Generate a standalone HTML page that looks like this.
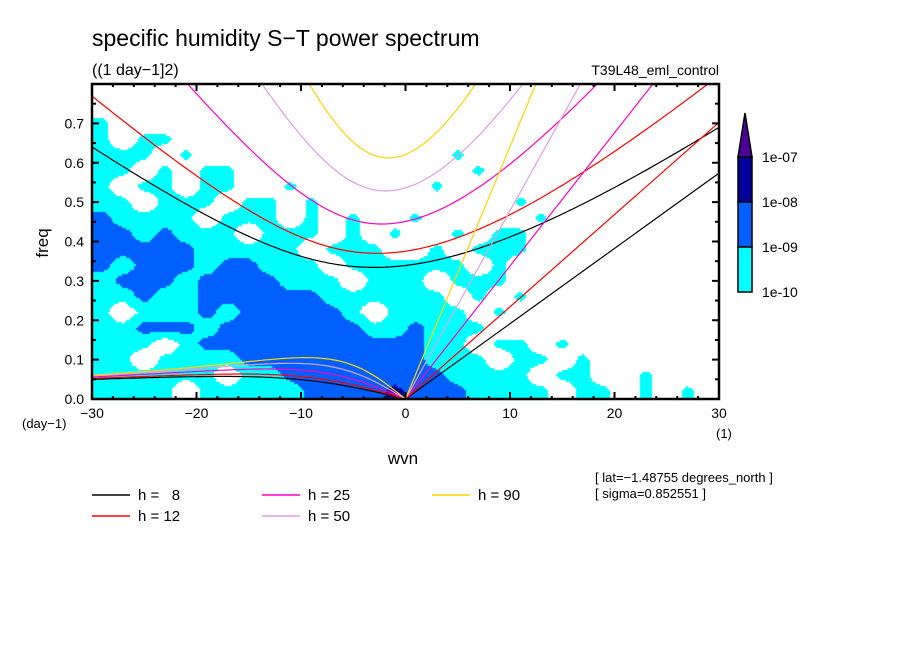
<!DOCTYPE html>
<html><head><meta charset="utf-8">
<style>
body{margin:0;background:#fff;}
#wrap{position:relative;width:904px;height:654px;overflow:hidden;font-family:"Liberation Sans",sans-serif;}
canvas,svg{position:absolute;left:0;top:0;}
</style></head>
<body>
<div id="wrap">
<canvas id="heat" width="904" height="654"></canvas>
<svg id="svg" width="904" height="654"></svg>
</div>
<script>
// grid levels: 0 white, 1 = 1e-10..1e-9, 2 = 1e-9..1e-8, 3 = 1e-8..1e-7
// rows bottom (freq 0-0.04) to top (0.76-0.8); columns wvn -30..30 step 2
const freqRows = [0.02,0.06,0.10,0.14,0.18,0.22,0.26,0.30,0.34,0.38,0.42,0.46,0.50,0.54,0.58,0.62,0.66,0.70,0.74,0.78];
const wvnCols = [-29,-27,-25,-23,-21,-19,-17,-15,-13,-11,-9,-7,-5,-3,-1,1,3,5,7,9,11,13,15,17,19,21,23,25,27,29];
const levelRows = [
 "111101111122223"+"222111101101010",
 "111111011222222"+"221111011001000",
 "110111122222222"+"211101101000000",
 "111012222222222"+"211011010000000",
 "112221222222211"+"211100000000000",
 "101112122222101"+"111010000000000",
 "112112222221111"+"110101000000000",
 "122212222111011"+"101110000000000",
 "212221221110111"+"111010000000000",
 "222221111101110"+"010111000000000",
 "221211101110101"+"001011000000000",
 "211110111010100"+"100000100000000",
 "110111011010000"+"000001000000000",
 "101101100100000"+"010000000000000",
 "110101100000000"+"000100000000000",
 "111010000000000"+"001000000000000",
 "101100000000000"+"000000000000000",
 "100000000000000"+"000000000000000",
 "000000000000000"+"000000000000000",
 "000000000000000"+"000000000000000"
];
const depths = [8,12,25,50,90];
const depthColors = ["#000000","#ff0000","#ff00c0","#dda0dd","#ffd400"];
const yTicks = [0,0.1,0.2,0.3,0.4,0.5,0.6,0.7];
const xTicks = [-30,-20,-10,0,10,20,30];
const cbLabels = ["1e-07","1e-08","1e-09","1e-10"];

const X0=92,X1=719,Y0=399,Y1=84;
const xs=w=>X0+(w+30)/60*(X1-X0);
const ys=f=>Y0-f/0.8*(Y0-Y1);
const levelColors=["#ffffff","#00ffff","#0060ff","#00009c"];

// heatmap
const ctx=document.getElementById('heat').getContext('2d');
function lev(r,c){r=Math.max(0,Math.min(freqRows.length-1,r));c=Math.max(0,Math.min(wvnCols.length-1,c));return +levelRows[r][c];}
const step=2;
const dw=wvnCols[1]-wvnCols[0], df=freqRows[1]-freqRows[0];
for(let px=X0;px<X1;px+=step){
 for(let py=Y1;py<Y0;py+=step){
  const w=(px+step/2-X0)/(X1-X0)*60-30, f=(Y0-(py+step/2))/(Y0-Y1)*0.8;
  const cf=(w-wvnCols[0])/dw, rf=(f-freqRows[0])/df;
  const c0=Math.floor(cf),r0=Math.floor(rf),tc=cf-c0,tr=rf-r0;
  const v=(lev(r0,c0)*(1-tc)+lev(r0,c0+1)*tc)*(1-tr)+(lev(r0+1,c0)*(1-tc)+lev(r0+1,c0+1)*tc)*tr;
  const n=v<0.7?0:v<1.6?1:v<2.6?2:3;
  if(n>0){ctx.fillStyle=levelColors[n];ctx.fillRect(px,py,step,step);}
 }
}

const svg=document.getElementById('svg');const NS="http://www.w3.org/2000/svg";
function el(tag,attrs,parent){const e=document.createElementNS(NS,tag);for(const k in attrs)e.setAttribute(k,attrs[k]);(parent||svg).appendChild(e);return e;}
function txt(x,y,s,size,anchor,name){const t=el('text',{x:x,y:y,'font-size':size,'text-anchor':anchor||'start',fill:'#000','font-family':'Liberation Sans, sans-serif'});t.textContent=s;


return t;}

// dispersion curves
const a=6.371e6,g=9.81,beta=2*7.292e-5/a,toCpd=86400/(2*Math.PI);
function roots(kw,h){const c=Math.sqrt(g*h),k=kw/a,A=k*k*c*c+3*beta*c,B=beta*k*c*c;
 const m=2*Math.sqrt(A/3),arg=Math.max(-1,Math.min(1,3*B/(2*A)*Math.sqrt(3/A)));const th=Math.acos(arg)/3;
 const r=[0,1,2].map(j=>m*Math.cos(th-2*Math.PI*j/3)).sort((p,q)=>p-q);return r.map(v=>v*toCpd);}
const cp=el('clipPath',{id:'cp'});el('rect',{x:X0,y:Y1,width:X1-X0,height:Y0-Y1},cp);
const gc=el('g',{'clip-path':'url(#cp)'});


depths.forEach((h,i)=>{
 let ig="",ro="";
 for(let w=-30;w<=30.001;w+=0.25){const r=roots(w,h);ig+=(ig?"L":"M")+xs(w).toFixed(1)+","+ys(r[2]).toFixed(1);
  if(w<=0){ro+=(ro?"L":"M")+xs(w).toFixed(1)+","+ys(w<0?r[1]:0).toFixed(1);}}
 const c=Math.sqrt(g*h);const fk=30/a*c*toCpd;
 const p1=el('path',{d:ig,fill:'none',stroke:depthColors[i],'stroke-width':1.2},gc);
 
 
 const p2=el('path',{d:ro,fill:'none',stroke:depthColors[i],'stroke-width':1.2},gc);
 
 
 const p3=el('line',{x1:xs(0),y1:ys(0),x2:xs(30),y2:ys(fk),stroke:depthColors[i],'stroke-width':1.2},gc);
 
 
});

// frame
const fr=el('rect',{x:X0,y:Y1,width:X1-X0,height:Y0-Y1,fill:'none',stroke:'#000','stroke-width':2.5});


// ticks
for(let f=0;f<=0.8001;f+=0.05){const maj=Math.abs(f*10-Math.round(f*10))<1e-6;const L=maj?7:4;
 el('line',{x1:X0,y1:ys(f),x2:X0+L,y2:ys(f),stroke:'#000','stroke-width':2});el('line',{x1:X1,y1:ys(f),x2:X1-L,y2:ys(f),stroke:'#000','stroke-width':2});}
for(let w=-30;w<=30;w+=2){const maj=w%10===0;const L=maj?7:3;
 el('line',{x1:xs(w),y1:Y0,x2:xs(w),y2:Y0-L,stroke:'#000','stroke-width':2});el('line',{x1:xs(w),y1:Y1,x2:xs(w),y2:Y1+L,stroke:'#000','stroke-width':2});}
yTicks.forEach(v=>txt(84,ys(v)+5,v.toFixed(1),14,'end','y-tick-label'));
xTicks.forEach(v=>txt(xs(v),418,(v<0?'\u2212':'')+Math.abs(v),14,'middle','x-tick-label'));
txt(22,428,'(day\u22121)',13,'start','y-unit-label');
txt(716,438,'(1)',13,'start','x-unit-label');
const fq=txt(0,0,'freq',17,'middle','y-axis-title');fq.setAttribute('transform','translate(48,243) rotate(-90)');
txt(403,464,'wvn',17,'middle','x-axis-title');
txt(92,46,'specific humidity S\u2212T power spectrum',23,'start','chart-title');
txt(92,75,'((1 day\u22121]2)',16,'start','units-subtitle');
txt(719,75,'T39L48_eml_control',14,'end','experiment-name');
txt(595,482,'[ lat=\u22121.48755 degrees_north ]',13,'start','latitude-info');
txt(595,498,'[ sigma=0.852551 ]',13,'start','sigma-info');

// colorbar
const cb=[{y0:157,y1:202,c:levelColors[3]},{y0:202,y1:247,c:levelColors[2]},{y0:247,y1:292,c:levelColors[1]}];
cb.forEach((s,i)=>{const r=el('rect',{x:738,y:s.y0,width:14,height:s.y1-s.y0,fill:s.c,stroke:'#000','stroke-width':1.5});
 
 });
const tri=el('polygon',{points:'738,157 752,157 745,113',fill:'#4b0096',stroke:'#000','stroke-width':1.5});


cbLabels.forEach((s,i)=>txt(762,162+45*i,s,14,'start','colorbar-label'));

// legend
const legPos=[[92,495],[92,516],[262,495],[262,516],[432,495]];
depths.forEach((h,i)=>{const [x,y]=legPos[i];
 const l=el('line',{x1:x,y1:y,x2:x+38,y2:y,stroke:depthColors[i],'stroke-width':1.5});
 
 
 const t=txt(x+46,y+5,'h = '+(h<10?'\u2007':'')+h,15,'start','legend-entry-h'+h);t.setAttribute('xml:space','preserve');});
</script>
</body></html>
